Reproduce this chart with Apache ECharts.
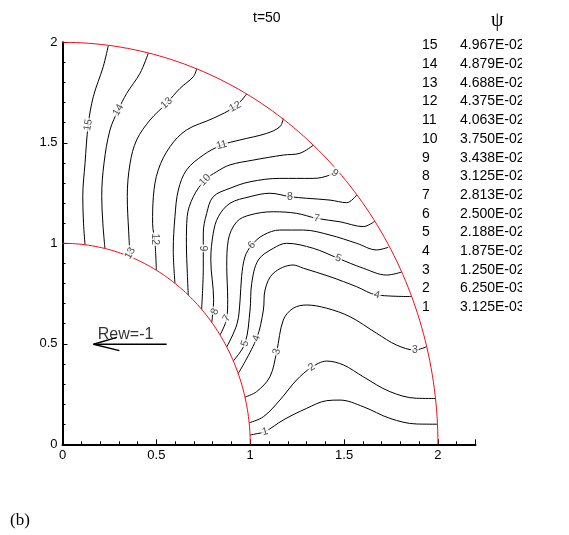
<!DOCTYPE html>
<html>
<head>
<meta charset="utf-8">
<script src="https://cdn.jsdelivr.net/npm/echarts@6/dist/echarts.min.js"></script>
<style>
  html, body { margin: 0; background: #fff; }
  #chart { width: 569px; height: 535px; }
</style>
</head>
<body>
<div id="chart"></div>
<script>
// stream function contours (x, y)
var c15 = [[0.244,1.983],[0.217,1.879],[0.164,1.729],[0.137,1.589],[0.12,1.398],[0.108,1.232],[0.112,1.1],[0.12,0.993]];
var c14 = [[0.457,1.946],[0.413,1.846],[0.342,1.746],[0.297,1.663],[0.253,1.564],[0.221,1.398],[0.209,1.232],[0.215,1.1],[0.226,0.974]];
var c13 = [[0.715,1.868],[0.697,1.829],[0.626,1.771],[0.555,1.697],[0.466,1.613],[0.395,1.514],[0.36,1.398],[0.345,1.232],[0.352,1.066],[0.36,0.933]];
var c12 = [[0.981,1.743],[0.919,1.68],[0.803,1.622],[0.661,1.564],[0.573,1.481],[0.51,1.365],[0.484,1.232],[0.48,1.1],[0.493,1.0],[0.5,0.866]];
var c11 = [[1.176,1.62],[1.158,1.58],[1.088,1.547],[0.945,1.514],[0.848,1.489],[0.75,1.439],[0.661,1.365],[0.617,1.265],[0.599,1.132],[0.59,0.967],[0.599,0.801]];
var c10 = [[1.336,1.488],[1.265,1.448],[1.176,1.439],[1.016,1.414],[0.892,1.39],[0.821,1.356],[0.759,1.315],[0.697,1.232],[0.664,1.132],[0.66,1.0],[0.665,0.85],[0.67,0.742]];
var c9 = [[1.46,1.367],[1.425,1.34],[1.336,1.323],[1.158,1.323],[0.999,1.306],[0.893,1.274],[0.803,1.232],[0.768,1.149],[0.75,1.05],[0.75,0.883],[0.741,0.671]];
var c8 = [[1.567,1.24],[1.514,1.202],[1.425,1.215],[1.301,1.224],[1.212,1.232],[1.105,1.249],[0.999,1.232],[0.892,1.199],[0.83,1.132],[0.803,1.05],[0.79,0.917],[0.805,0.72],[0.795,0.606]];
var c7 = [[1.664,1.11],[1.602,1.083],[1.478,1.107],[1.354,1.124],[1.247,1.149],[1.123,1.157],[0.999,1.141],[0.928,1.107],[0.883,1.016],[0.875,0.884],[0.88,0.72],[0.875,0.627],[0.839,0.544]];
var c6 = [[1.735,0.98],[1.673,0.967],[1.567,1.0],[1.425,1.041],[1.283,1.066],[1.158,1.066],[1.07,1.041],[1.008,0.991],[0.972,0.933],[0.954,0.834],[0.946,0.718],[0.93,0.6],[0.875,0.484]];
var c5 = [[1.807,0.857],[1.727,0.842],[1.602,0.876],[1.469,0.925],[1.336,0.975],[1.194,1.0],[1.123,0.975],[1.043,0.917],[1.008,0.801],[0.999,0.668],[0.972,0.502],[0.91,0.415]];
var c4 = [[1.86,0.735],[1.674,0.743],[1.567,0.784],[1.425,0.834],[1.283,0.876],[1.229,0.892],[1.123,0.851],[1.079,0.768],[1.07,0.668],[1.034,0.527],[0.936,0.352]];
var c3 = [[1.94,0.486],[1.877,0.469],[1.779,0.494],[1.674,0.552],[1.531,0.635],[1.407,0.677],[1.301,0.693],[1.229,0.677],[1.176,0.618],[1.141,0.461],[1.105,0.336],[1.034,0.262],[0.972,0.235]];
var c2 = [[1.987,0.228],[1.886,0.229],[1.744,0.262],[1.602,0.336],[1.496,0.395],[1.407,0.414],[1.327,0.383],[1.247,0.32],[1.158,0.22],[1.07,0.137],[0.994,0.107]];
var c1 = [[1.997,0.1],[1.886,0.101],[1.744,0.129],[1.602,0.187],[1.478,0.22],[1.407,0.217],[1.301,0.179],[1.176,0.121],[1.079,0.063],[1.025,0.051],[0.999,0.046]];
var contours = [c1, c2, c3, c4, c5, c6, c7, c8, c9, c10, c11, c12, c13, c14, c15];

// in-line contour labels: x, y, text, angle
var contourLabels = [
  [0.137,1.589,'15',80], [0.297,1.663,'14',60], [0.555,1.697,'13',42], [0.919,1.68,'12',28],
  [0.848,1.489,'11',15], [0.759,1.315,'10',45], [1.451,1.35,'9',-35], [1.212,1.232,'8',0],
  [1.354,1.124,'7',-10], [1.008,0.991,'6',45], [1.469,0.925,'5',-20], [1.674,0.743,'4',-15],
  [1.877,0.469,'3',0], [1.327,0.383,'2',32], [1.079,0.063,'1',15],
  [0.36,0.95,'13',60], [0.493,1.02,'12',-90], [0.75,0.975,'9',-90], [0.812,0.66,'8',65],
  [0.875,0.627,'7',60], [0.972,0.502,'5',70], [1.034,0.527,'4',70], [1.141,0.461,'3',75]
];

var levelIds = ['15','14','13','12','11','10','9','8','7','6','5','4','3','2','1'];
var levelValues = ['4.967E-02','4.879E-02','4.688E-02','4.375E-02','4.063E-02','3.750E-02','3.438E-02',
  '3.125E-02','2.813E-02','2.500E-02','2.188E-02','1.875E-02','1.250E-02','6.250E-03','3.125E-03'];

var xTicks = [0, 0.5, 1, 1.5, 2];
var radii = [1, 2];
var arrowShaft = [[0.555,0.498],[0.165,0.498]];
var arrowHead = [[0.29,0.532],[0.165,0.498],[0.303,0.466]];

var chart = echarts.init(document.getElementById('chart'));
var font = 'Liberation Sans, Arial, sans-serif';

function arcPoints(r) {
  var pts = [];
  for (var i = 0; i <= 90; i++) {
    var a = i * Math.PI / 180;
    pts.push([r * Math.cos(a), r * Math.sin(a)]);
  }
  return pts;
}

var series = [];
radii.forEach(function (r) {
  series.push({
    type: 'line', data: arcPoints(r), showSymbol: false, silent: true,
    lineStyle: { color: '#e8101a', width: 1 }, z: 3
  });
});
contours.forEach(function (c) {
  series.push({
    type: 'line', data: c, smooth: 0.35, showSymbol: false, silent: true,
    lineStyle: { color: '#000', width: 1 }, z: 2
  });
});
series.push({
  type: 'scatter', symbolSize: 0, silent: true, z: 5,
  data: contourLabels.map(function (d) {
    return { value: [d[0], d[1]], name: d[2], label: { rotate: d[3] } };
  }),
  label: {
    show: true, position: 'inside', formatter: '{b}', fontSize: 10.5, fontFamily: font,
    color: '#222', backgroundColor: '#fff', padding: [0, 1]
  }
});
series.push({
  type: 'line', data: arrowShaft, showSymbol: false, silent: true,
  lineStyle: { color: '#000', width: 1.5 }, z: 4
});
series.push({
  type: 'line', data: arrowHead, showSymbol: false, silent: true,
  lineStyle: { color: '#000', width: 1.5 }, z: 4
});
series.push({
  type: 'scatter', symbolSize: 0, silent: true, z: 6,
  data: [{ value: [0.188, 0.545], name: 'Rew=-1' }],
  label: { show: true, position: 'right', distance: 0, formatter: '{b}', fontSize: 16, fontFamily: font, color: '#000' }
});

var legendTexts = [];
legendTexts.push({ type: 'text', left: 491, top: 11, style: { text: 'ψ', font: '20px Liberation Serif, serif', fill: '#000' } });
levelIds.forEach(function (id, i) {
  legendTexts.push({ type: 'text', left: 422, top: 38.5 + i * 18.7, style: { text: id, font: '14px ' + font, fill: '#000' } });
  legendTexts.push({ type: 'text', left: 460, top: 38.5 + i * 18.7, style: { text: levelValues[i], font: '14px ' + font, fill: '#000' } });
});
legendTexts.push({ type: 'rect', left: 522, top: 30, shape: { width: 47, height: 300 }, style: { fill: '#fff' }, z: 100 });
legendTexts.push({ type: 'text', left: 10, top: 512, style: { text: '(b)', font: '17px Liberation Serif, serif', fill: '#000' } });

chart.setOption({
  animation: false,
  backgroundColor: '#fff',
  title: {
    text: 't=50', left: 248, top: 6,
    textStyle: { fontSize: 14, fontWeight: 'normal', fontFamily: font, color: '#000' }
  },
  grid: { left: 62.5, right: 93.5, top: 42.3, bottom: 90.7 },
  xAxis: {
    type: 'value', min: 0, max: 2.2, interval: 0.5,
    axisLine: { onZero: false, lineStyle: { color: '#000', width: 2 } },
    axisTick: { inside: true, length: 5, lineStyle: { color: '#000' } },
    minorTick: { show: true, splitNumber: 5, length: 3, lineStyle: { color: '#000' } },
    splitLine: { show: false },
    axisLabel: {
      color: '#000', fontSize: 13, fontFamily: font, margin: 5, showMaxLabel: false,
      formatter: function (v) { return xTicks.indexOf(v) >= 0 ? String(v) : ''; }
    }
  },
  yAxis: {
    type: 'value', min: 0, max: 2, interval: 0.5,
    axisLine: { show: true, onZero: false, lineStyle: { color: '#000', width: 2 } },
    axisTick: { show: true, inside: true, length: 5, lineStyle: { color: '#000' } },
    minorTick: { show: true, splitNumber: 5, length: 3, lineStyle: { color: '#000' } },
    splitLine: { show: false },
    axisLabel: { color: '#000', fontSize: 13, fontFamily: font, margin: 5 }
  },
  graphic: legendTexts,
  series: series
});
</script>
</body>
</html>
